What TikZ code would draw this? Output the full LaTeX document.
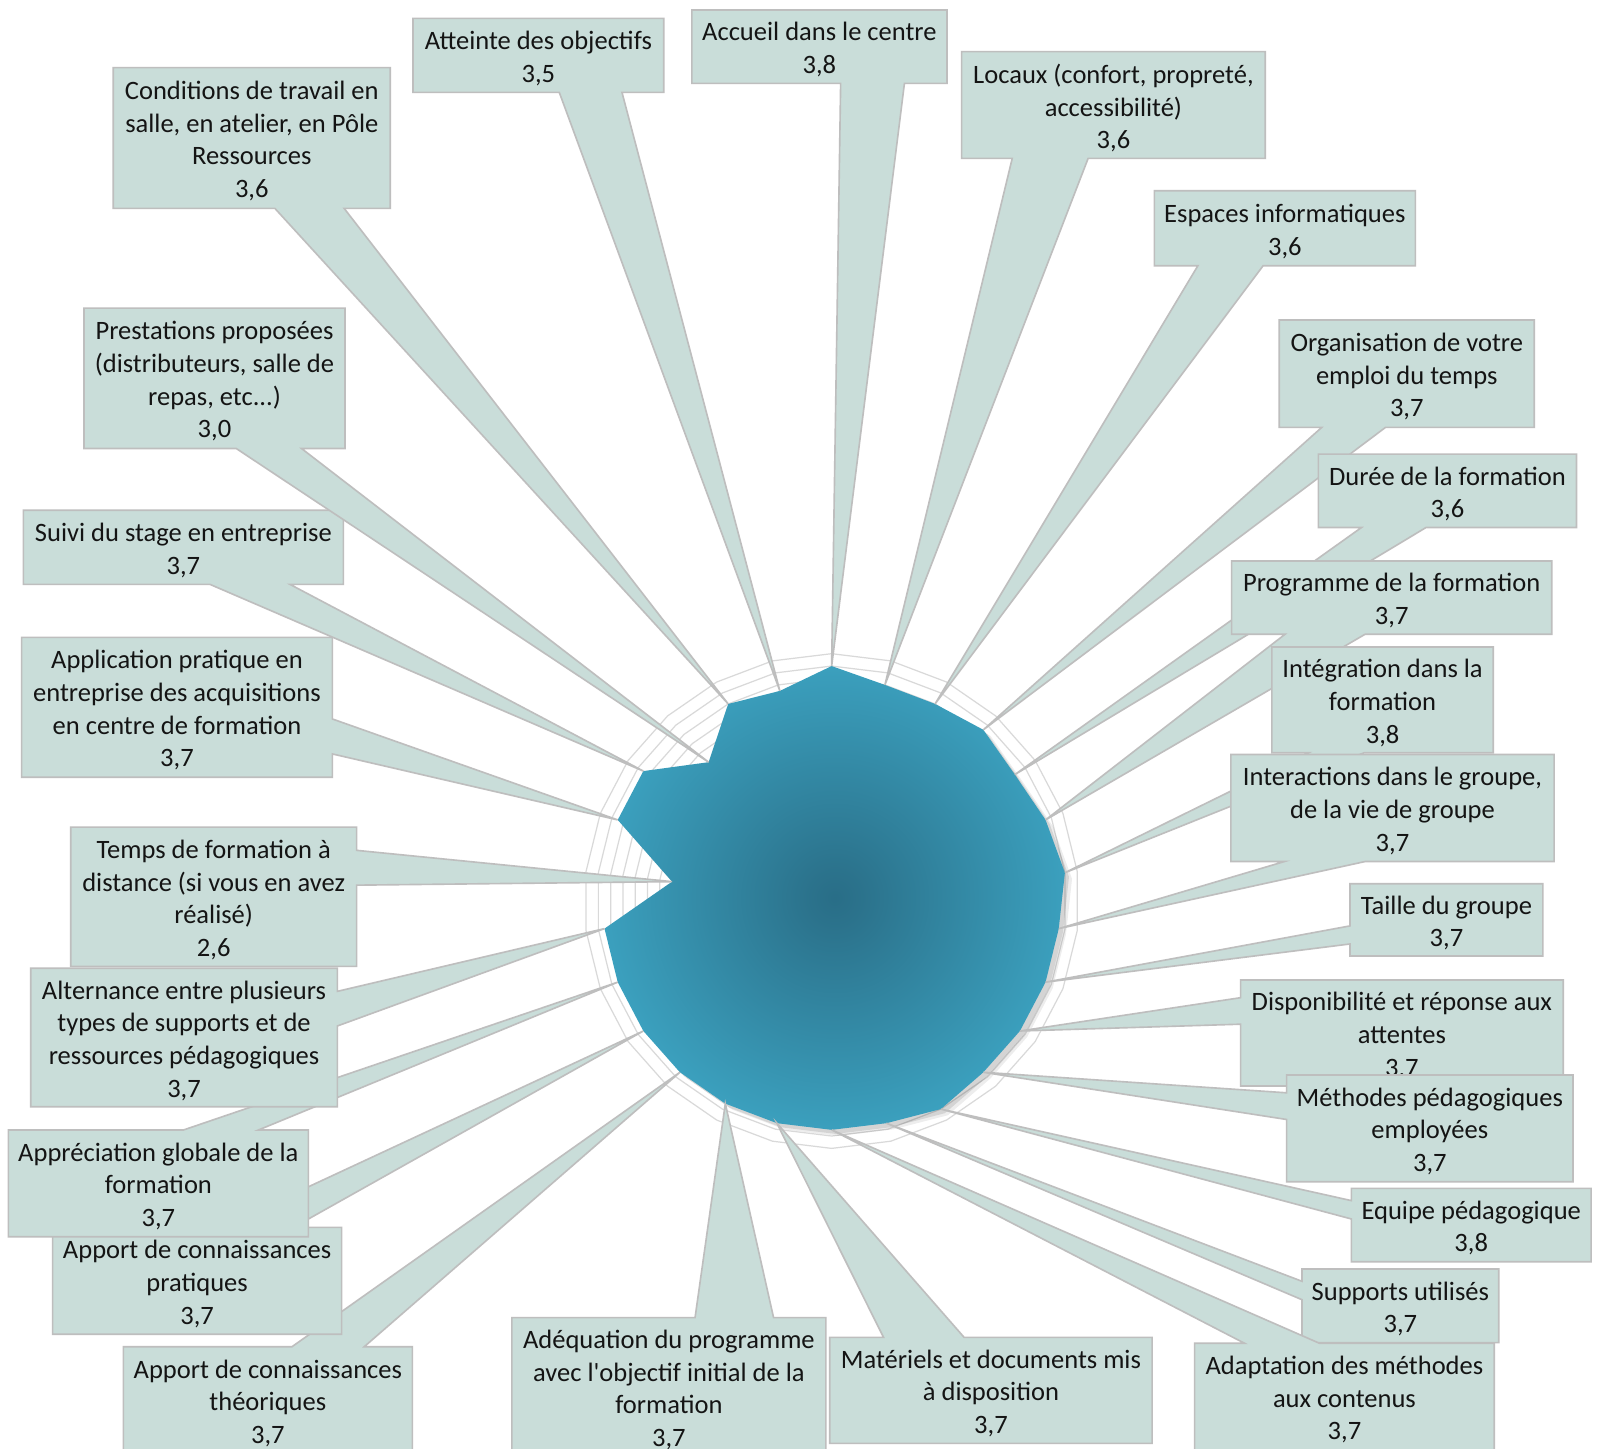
\documentclass[tikz,border=0pt]{standalone}
\usepackage{fontspec}
\setmainfont{Carlito}[Ligatures=TeXOff]
\definecolor{boxfill}{RGB}{201,221,217}
\definecolor{boxline}{RGB}{190,190,190}
\definecolor{gridc}{RGB}{217,217,217}
\pgfdeclareradialshading{radarshade}{\pgfpoint{0bp}{0bp}}{rgb(0bp)=(0.16,0.43,0.53); rgb(3bp)=(0.17,0.45,0.55); rgb(28bp)=(0.24,0.65,0.77); rgb(100bp)=(0.24,0.65,0.77)}
\tikzset{
  callout/.style={fill=boxfill, draw=boxline, line width=0.8pt, line join=miter},
  lbl/.style={align=center, inner sep=0pt, yshift=-1.5pt, font=\fontsize{13}{16}\selectfont, text=black!92},
  ring/.style={draw=gridc, line width=0.6pt},
}
\newcommand\callout[7]{%
  \pgfmathsetmacro\cAng{#1*360/26-90}%
  \pgfmathsetmacro\cTx{815+#2*60.6*cos(\cAng)}%
  \pgfmathsetmacro\cTy{883+#2*60.6*sin(\cAng)}%
  \pgfmathsetmacro\cW{#5-#3}%
  \pgfmathsetmacro\cH{#6-#4}%
  \pgfmathsetmacro\cDx{\cTx-(#3+#5)/2}%
  \pgfmathsetmacro\cDy{\cTy-(#4+#6)/2}%
  \pgfmathsetmacro\cDz{abs(\cDy)/\cH-abs(\cDx)/\cW}%
  \pgfmathsetmacro\cXa{#3+\cW*((\cDx>0)?7:2)/12}%
  \pgfmathsetmacro\cXb{#3+\cW*((\cDx>0)?10:5)/12}%
  \pgfmathsetmacro\cYa{#4+\cH*((\cDy>0)?7:2)/12}%
  \pgfmathsetmacro\cYb{#4+\cH*((\cDy>0)?10:5)/12}%
  \pgfmathtruncatemacro\cSide{(\cDz>0)?((\cDy>0)?2:0):((\cDx>0)?1:3)}%
  \ifcase\cSide
    \filldraw[callout] (#3,#4) -- (\cXa,#4) -- (p#1) -- (\cXb,#4) -- (#5,#4) -- (#5,#6) -- (#3,#6) -- cycle;
  \or
    \filldraw[callout] (#3,#4) -- (#5,#4) -- (#5,\cYa) -- (p#1) -- (#5,\cYb) -- (#5,#6) -- (#3,#6) -- cycle;
  \or
    \filldraw[callout] (#3,#4) -- (#5,#4) -- (#5,#6) -- (\cXb,#6) -- (p#1) -- (\cXa,#6) -- (#3,#6) -- cycle;
  \or
    \filldraw[callout] (#3,#4) -- (#5,#4) -- (#5,#6) -- (#3,#6) -- (#3,\cYb) -- (p#1) -- (#3,\cYa) -- cycle;
  \fi
  \node[lbl] (c#1) at ({(#3+#5)/2},{(#4+#6)/2}) {#7};%
}
\begin{document}
\begin{tikzpicture}[x=0.5pt,y=-0.5pt]
\useasboundingbox (0,0) rectangle (1568,1420);
\fill[white] (0,0) rectangle (1568,1420);
\clip (0,0) rectangle (1568,1420);
\begin{scope}[shift={(815,883)}]
  \foreach \k in {1,...,20} {
    \draw[ring] (-90:\k*12.12) \foreach \j in {1,...,25} { -- (\j*360/26-90:\k*12.12) } -- cycle;
  }
  \foreach \v [count=\i from 0] in {3.8,3.6,3.6,3.7,3.6,3.7,3.8,3.7,3.7,3.7,3.7,3.8,3.7,3.7,3.7,3.7,3.7,3.7,3.7,3.7,2.6,3.7,3.7,3.0,3.6,3.5} {
    \coordinate (p\i) at (\i*360/26-90:\v*60.6);
  }
\end{scope}
% shadow
\fill[black, opacity=0.07] ([shift={(7,6)}]p0) \foreach \i in {1,...,25} { -- ([shift={(7,6)}]p\i) } -- cycle;
\fill[black, opacity=0.10] ([shift={(4,4)}]p0) \foreach \i in {1,...,25} { -- ([shift={(4,4)}]p\i) } -- cycle;
% data polygon
\shade[shading=radarshade] (p0) \foreach \i in {1,...,25} { -- (p\i) } -- cycle;
% callouts
\callout{0}{3.8}{678}{9.8}{928}{81.7}{Accueil dans le centre\\3,8}
\callout{1}{3.6}{942.4}{50.6}{1239.9}{155.2}{Locaux (confort, propreté,\\accessibilité)\\3,6}
\callout{2}{3.6}{1131.3}{186.9}{1387}{260.4}{Espaces informatiques\\3,6}
\callout{3}{3.7}{1253.7}{313.6}{1503.6}{418.8}{Organisation de votre\\emploi du temps\\3,7}
\callout{4}{3.6}{1292}{445}{1545}{517}{Durée de la formation\\3,6}
\callout{5}{3.7}{1207}{549.8}{1520.7}{621.6}{Programme de la formation\\3,7}
\callout{6}{3.8}{1246.4}{634}{1463.4}{737.7}{Intégration dans la\\formation\\3,8}
\callout{7}{3.7}{1206.2}{739.4}{1523}{844.2}{Interactions dans le groupe,\\de la vie de groupe\\3,7}
\callout{8}{3.7}{1323}{866}{1512}{936.9}{Taille du groupe\\3,7}
\callout{9}{3.7}{1215.8}{960.4}{1531.9}{1064.3}{Disponibilité et réponse aux\\attentes\\3,7}
\callout{10}{3.7}{1260.9}{1053.5}{1541.5}{1158.1}{Méthodes pédagogiques\\employées\\3,7}
\callout{11}{3.8}{1324.3}{1164.6}{1559.3}{1236.5}{Equipe pédagogique\\3,8}
\callout{12}{3.7}{1275.9}{1243.6}{1468.8}{1315.8}{Supports utilisés\\3,7}
\callout{13}{3.7}{1170.7}{1316.4}{1464.4}{1421}{Adaptation des méthodes\\aux contenus\\3,7}
\callout{14}{3.7}{813.2}{1310.6}{1129.1}{1414.5}{Matériels et documents mis\\à disposition\\3,7}
\callout{15}{3.7}{501.6}{1291.3}{809.4}{1427.3}{Adéquation du programme\\avec l'objectif initial de la\\formation\\3,7}
\callout{16}{3.7}{120.9}{1319.8}{404.1}{1424.3}{Apport de connaissances\\théoriques\\3,7}
\callout{17}{3.7}{51.6}{1202.8}{334.8}{1307.6}{Apport de connaissances\\pratiques\\3,7}
\callout{18}{3.7}{8.2}{1107.4}{302.2}{1212}{Appréciation globale de la\\formation\\3,7}
\callout{19}{3.7}{30.1}{948.9}{330.6}{1084.6}{Alternance entre plusieurs\\types de supports et de\\ressources pédagogiques\\3,7}
\callout{20}{2.6}{69.3}{810.6}{349.5}{947}{Temps de formation à\\distance (si vous en avez\\réalisé)\\2,6}
\callout{21}{3.7}{21.2}{624.6}{325.7}{761.7}{Application pratique en\\entreprise des acquisitions\\en centre de formation\\3,7}
\callout{22}{3.7}{22.9}{500}{336.5}{572.7}{Suivi du stage en entreprise\\3,7}
\callout{23}{3.0}{82.3}{302}{338.1}{439.5}{Prestations proposées\\(distributeurs, salle de\\repas, etc...)\\3,0}
\callout{24}{3.6}{111}{66.3}{382.5}{204.2}{Conditions de travail en\\salle, en atelier, en Pôle\\Ressources\\3,6}
\callout{25}{3.5}{404.7}{18}{650.5}{90.5}{Atteinte des objectifs\\3,5}
\end{tikzpicture}
\end{document}
